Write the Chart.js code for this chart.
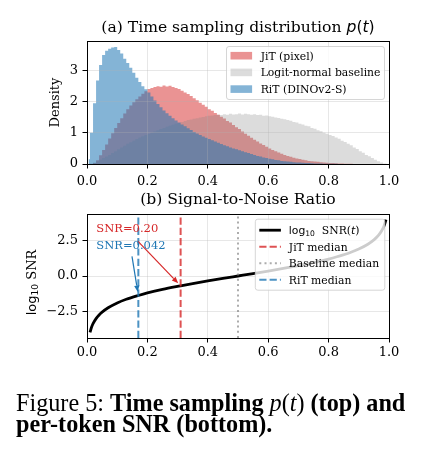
<!DOCTYPE html>
<html>
<head>
<meta charset="utf-8">
<script src="https://cdn.jsdelivr.net/npm/chart.js@4.4.1/dist/chart.umd.min.js"></script>
<style>
  body { margin: 0; background: #fff; width: 424px; height: 459px; position: relative; overflow: hidden; }
  #c1 { position: absolute; left: 0; top: 0; }
  #c2 { position: absolute; left: 0; top: 185px; }
  #caption {
    position: absolute; left: 16px; top: 392px;
    font-family: "Liberation Serif", serif; font-size: 24.2px; line-height: 21px;
    white-space: nowrap; color: #000;
  }
</style>
</head>
<body>
<canvas id="c1" width="424" height="190"></canvas>
<canvas id="c2" width="424" height="190"></canvas>
<div id="caption">Figure 5: <b>Time sampling</b> <i>p</i>(<i>t</i>) <b>(top) and</b><br><b>per-token SNR (bottom).</b></div>
<script>
// ---- data: (a) histograms, bin width 0.01 ----
const binCenters = [
  0.005, 0.015, 0.025, 0.035, 0.045, 0.055, 0.065, 0.075, 0.085, 0.095,
  0.105, 0.115, 0.125, 0.135, 0.145, 0.155, 0.165, 0.175, 0.185, 0.195,
  0.205, 0.215, 0.225, 0.235, 0.245, 0.255, 0.265, 0.275, 0.285, 0.295,
  0.305, 0.315, 0.325, 0.335, 0.345, 0.355, 0.365, 0.375, 0.385, 0.395,
  0.405, 0.415, 0.425, 0.435, 0.445, 0.455, 0.465, 0.475, 0.485, 0.495,
  0.505, 0.515, 0.525, 0.535, 0.545, 0.555, 0.565, 0.575, 0.585, 0.595,
  0.605, 0.615, 0.625, 0.635, 0.645, 0.655, 0.665, 0.675, 0.685, 0.695,
  0.705, 0.715, 0.725, 0.735, 0.745, 0.755, 0.765, 0.775, 0.785, 0.795,
  0.805, 0.815, 0.825, 0.835, 0.845, 0.855, 0.865, 0.875, 0.885, 0.895,
  0.905, 0.915, 0.925, 0.935, 0.945, 0.955, 0.965, 0.975, 0.985, 0.995
];
const jitDensity = [
  0, 0, 0.03, 0.12, 0.28, 0.45, 0.63, 0.82, 0.99, 1.16,
  1.32, 1.47, 1.62, 1.76, 1.88, 1.98, 2.08, 2.17, 2.26, 2.34,
  2.41, 2.44, 2.47, 2.50, 2.48, 2.52, 2.49, 2.51, 2.47, 2.44,
  2.41, 2.35, 2.30, 2.25, 2.18, 2.11, 2.05, 1.97, 1.90, 1.84,
  1.76, 1.71, 1.64, 1.58, 1.52, 1.46, 1.38, 1.33, 1.25, 1.18,
  1.12, 1.04, 0.97, 0.91, 0.84, 0.78, 0.72, 0.66, 0.61, 0.55,
  0.50, 0.45, 0.41, 0.37, 0.33, 0.29, 0.26, 0.23, 0.20, 0.18,
  0.16, 0.14, 0.12, 0.10, 0.09, 0.08, 0.07, 0.06, 0.05, 0.04,
  0.035, 0.03, 0.025, 0.02, 0.015, 0.01, 0.008, 0.006, 0.004, 0.002,
  0, 0, 0, 0, 0, 0, 0, 0, 0, 0
];
const baselineDensity = [
  0.005, 0.02, 0.05, 0.09, 0.14, 0.19, 0.24, 0.29, 0.35, 0.41,
  0.47, 0.53, 0.59, 0.65, 0.70, 0.75, 0.80, 0.85, 0.89, 0.93,
  0.96, 1.00, 1.04, 1.08, 1.12, 1.16, 1.20, 1.23, 1.26, 1.29,
  1.32, 1.35, 1.38, 1.41, 1.43, 1.45, 1.47, 1.49, 1.51, 1.53,
  1.55, 1.56, 1.57, 1.58, 1.57, 1.60, 1.58, 1.61, 1.59, 1.60,
  1.62, 1.59, 1.61, 1.60, 1.58, 1.60, 1.57, 1.58, 1.55, 1.56,
  1.53, 1.52, 1.49, 1.48, 1.45, 1.44, 1.41, 1.39, 1.35, 1.33,
  1.29, 1.27, 1.23, 1.21, 1.16, 1.13, 1.08, 1.05, 1.00, 0.97,
  0.93, 0.90, 0.85, 0.81, 0.75, 0.71, 0.65, 0.60, 0.53, 0.48,
  0.41, 0.36, 0.29, 0.25, 0.19, 0.14, 0.09, 0.05, 0.02, 0.005
];
const ritDensity = [
  0.15, 1.00, 1.95, 2.68, 3.18, 3.50, 3.64, 3.70, 3.74, 3.76,
  3.66, 3.55, 3.38, 3.24, 3.09, 2.93, 2.77, 2.63, 2.50, 2.40,
  2.30, 2.17, 2.04, 1.93, 1.82, 1.72, 1.63, 1.55, 1.47, 1.40,
  1.33, 1.27, 1.21, 1.15, 1.09, 1.03, 0.98, 0.93, 0.88, 0.84,
  0.80, 0.76, 0.72, 0.68, 0.64, 0.60, 0.57, 0.53, 0.50, 0.47,
  0.44, 0.41, 0.38, 0.35, 0.32, 0.29, 0.26, 0.24, 0.21, 0.19,
  0.17, 0.15, 0.13, 0.12, 0.10, 0.09, 0.08, 0.07, 0.06, 0.05,
  0.045, 0.04, 0.035, 0.03, 0.025, 0.02, 0.018, 0.015, 0.012, 0.01,
  0.008, 0.006, 0.005, 0.004, 0.003, 0.002, 0.001, 0, 0, 0,
  0, 0, 0, 0, 0, 0, 0, 0, 0, 0
];
const histLabels = ['JiT (pixel)', 'Logit-normal baseline', 'RiT (DINOv2-S)'];

// ---- data: (b) log10 SNR curve and medians ----
const snrT = [0.01, 0.015, 0.02, 0.03, 0.04, 0.05, 0.07, 0.1, 0.13, 0.17, 0.2, 0.25, 0.31, 0.35, 0.4, 0.45, 0.5,
  0.55, 0.6, 0.65, 0.69, 0.75, 0.8, 0.83, 0.87, 0.9, 0.93, 0.95, 0.96, 0.97, 0.98, 0.985, 0.99];
const snrLog10 = [-3.99, -3.63, -3.38, -3.02, -2.76, -2.56, -2.25, -1.91, -1.65, -1.38, -1.20, -0.95, -0.70, -0.54, -0.35, -0.17, 0,
  0.17, 0.35, 0.54, 0.70, 0.95, 1.20, 1.38, 1.65, 1.91, 2.25, 2.56, 2.76, 3.02, 3.38, 3.63, 3.99];
const medianLabels = ['JiT median', 'Baseline median', 'RiT median'];
const medianT = [0.31, 0.5, 0.17];
const snrNotes = ['SNR=0.20', 'SNR=0.042'];
const snrNoteT = [0.31, 0.17];
const snrNoteLog10 = [-0.70, -1.38];

// ---- ticks ----
const xTicks = [0, 0.2, 0.4, 0.6, 0.8, 1.0];
const xTickLabels = ['0.0', '0.2', '0.4', '0.6', '0.8', '1.0'];
const densityTicks = [0, 1, 2, 3];
const densityTickLabels = ['0', '1', '2', '3'];
const snrTicks = [-2.5, 0, 2.5];
const snrTickLabels = ['\u22122.5', '0.0', '2.5'];

// ---- styles ----
const SERIF = '"DejaVu Serif"';
const SANS = '"DejaVu Sans"';
const GRID = 'rgba(176,176,176,0.3)';
const histFill = ['rgba(214,39,40,0.5)', 'rgba(128,128,128,0.28)', 'rgba(31,119,180,0.55)'];
const medianColor = ['rgba(214,39,40,0.8)', 'rgba(128,128,128,0.65)', 'rgba(31,119,180,0.8)'];
const medianDash = [[7.2, 3.1], [2, 3.2], [7.2, 3.1]];
const noteColor = ['rgb(214,39,40)', 'rgb(31,119,180)'];
// text anchor and arrow tail for each note, in data units
const noteLayout = [
  { tx: 0.031, ty: 3.10, ax: 0.169, ay: 2.45 },
  { tx: 0.031, ty: 1.92, ax: 0.149, ay: 1.39 }
];
const SNR_MIN = -4.39, SNR_MAX = 4.39;

function drawParts(ctx, parts, x, y, align) {
  let w = 0;
  for (const p of parts) { ctx.font = p.font; w += ctx.measureText(p.text).width; }
  let cx = align === 'center' ? x - w / 2 : x;
  ctx.textAlign = 'left';
  ctx.textBaseline = 'alphabetic';
  for (const p of parts) {
    ctx.font = p.font;
    ctx.fillText(p.text, cx, y + (p.dy || 0));
    cx += ctx.measureText(p.text).width;
  }
}

function legendFrame(ctx, x, y, w, h) {
  ctx.beginPath();
  ctx.roundRect(x + 0.5, y + 0.5, w, h, 2.5);
  ctx.fillStyle = 'rgba(255,255,255,0.8)';
  ctx.fill();
  ctx.strokeStyle = 'rgba(204,204,204,0.8)';
  ctx.lineWidth = 1;
  ctx.stroke();
}

function spines(ctx, a) {
  ctx.strokeStyle = '#000';
  ctx.lineWidth = 1;
  ctx.strokeRect(Math.round(a.left) + 0.5, Math.round(a.top) + 0.5,
    Math.round(a.right) - Math.round(a.left), Math.round(a.bottom) - Math.round(a.top));
}

function axisScales(yOpts, yTicks, yLabels, xPad, yWidth, xHeight, gridZ) {
  const grid = { color: GRID, lineWidth: 1, tickColor: '#000', tickLength: 4.5, tickWidth: 1, z: gridZ, offset: false };
  const tickFont = { family: SERIF, size: 13, lineHeight: 1.2 };
  return {
    x: {
      type: 'linear', min: 0, max: 1, offset: false,
      grid: grid, border: { color: '#000', width: 1, z: gridZ },
      ticks: { font: tickFont, color: '#000', padding: xPad, autoSkip: false, maxRotation: 0,
        callback: (v, i) => xTickLabels[i] },
      afterBuildTicks: s => { s.ticks = xTicks.map(v => ({ value: v })); },
      afterFit: s => { s.height = xHeight; }
    },
    y: Object.assign({
      type: 'linear',
      grid: grid, border: { color: '#000', width: 1, z: gridZ },
      ticks: { font: tickFont, color: '#000', padding: 4.5, autoSkip: false,
        callback: (v, i) => yLabels[i] },
      afterBuildTicks: s => { s.ticks = yTicks.map(v => ({ value: v })); },
      afterFit: s => { s.width = yWidth; }
    }, yOpts)
  };
}

// ---- (a) time sampling distribution ----
const topDecor = {
  id: 'topDecor',
  afterDraw(chart) {
    const { ctx, chartArea: a } = chart;
    ctx.save();
    spines(ctx, a);
    ctx.fillStyle = '#000';
    const cx = (a.left + a.right) / 2;
    drawParts(ctx, [
      { text: '(a) Time sampling distribution ', font: '15.6px ' + SERIF },
      { text: 'p', font: 'italic 15.6px ' + SANS },
      { text: '(', font: '15.6px ' + SANS },
      { text: 't', font: 'italic 15.6px ' + SANS },
      { text: ')', font: '15.6px ' + SANS }
    ], cx, a.top - 9.1, 'center');
    ctx.save();
    ctx.translate(58.7, (a.top + a.bottom) / 2);
    ctx.rotate(-Math.PI / 2);
    drawParts(ctx, [{ text: 'Density', font: '13px ' + SERIF }], 0, 0, 'center');
    ctx.restore();
    // legend
    const lx = a.right - 5 - 158, ly = a.top + 5;
    legendFrame(ctx, lx, ly, 158, 53);
    histLabels.forEach((lab, i) => {
      const ry = ly + 9.7 + i * 16.7;
      ctx.fillStyle = histFill[i];
      ctx.fillRect(lx + 4.5, ry - 3.8, 21.6, 7.6);
      ctx.fillStyle = '#000';
      drawParts(ctx, [{ text: lab, font: '10.8px ' + SERIF }], lx + 34.7, ry + 3.9, 'left');
    });
    ctx.restore();
  }
};

// histograms drawn as stepped filled areas (steps switch at the bin edges)
const histSeries = [jitDensity, baselineDensity, ritDensity];
new Chart(document.getElementById('c1'), {
  type: 'line',
  data: {
    datasets: histSeries.map((vals, i) => ({
      label: histLabels[i],
      data: binCenters.map((x, j) => ({ x: x, y: vals[j] })),
      backgroundColor: histFill[i],
      borderWidth: 0,
      borderColor: 'rgba(0,0,0,0)',
      pointRadius: 0,
      stepped: 'middle',
      fill: 'origin',
      order: 3 - i
    }))
  },
  options: {
    responsive: false,
    animation: false,
    layout: { padding: { left: 0, right: 35, top: 41, bottom: 0 } },
    plugins: { legend: { display: false }, tooltip: { enabled: false } },
    scales: axisScales({ min: 0, max: 3.95 }, densityTicks, densityTickLabels, 5.4, 87, 26, 1)
  },
  plugins: [topDecor]
});

// ---- (b) signal-to-noise ratio ----
function arrow(ctx, x0, y0, tx, ty, color) {
  const ang = Math.atan2(ty - y0, tx - x0);
  const x1 = tx - 3.5 * Math.cos(ang), y1 = ty - 3.5 * Math.sin(ang);
  const head = 6.5, half = 2.6;
  const bx = x1 - head * Math.cos(ang), by = y1 - head * Math.sin(ang);
  ctx.strokeStyle = color;
  ctx.fillStyle = color;
  ctx.lineWidth = 1.2;
  ctx.setLineDash([]);
  ctx.beginPath(); ctx.moveTo(x0, y0); ctx.lineTo(bx, by); ctx.stroke();
  ctx.beginPath();
  ctx.moveTo(x1, y1);
  ctx.lineTo(bx + half * Math.sin(ang), by - half * Math.cos(ang));
  ctx.lineTo(bx - half * Math.sin(ang), by + half * Math.cos(ang));
  ctx.closePath();
  ctx.fill();
}

const bottomDecor = {
  id: 'bottomDecor',
  afterDatasetsDraw(chart) {
    const { ctx, chartArea: a, scales: { x, y } } = chart;
    ctx.save();
    snrNotes.forEach((txt, i) => {
      const L = noteLayout[i];
      ctx.fillStyle = noteColor[i];
      drawParts(ctx, [{ text: txt, font: '11.5px ' + SERIF }], x.getPixelForValue(L.tx), y.getPixelForValue(L.ty), 'left');
      arrow(ctx, x.getPixelForValue(L.ax), y.getPixelForValue(L.ay),
        x.getPixelForValue(snrNoteT[i]), y.getPixelForValue(snrNoteLog10[i]), noteColor[i]);
    });
    // legend
    const lw = 129.5, lh = 71;
    const lx = a.right - 4.7 - lw, ly = a.top + 4.7;
    legendFrame(ctx, lx, ly, lw, lh);
    const rows = [
      { color: '#000', width: 2.8, dash: [] }
    ].concat(medianLabels.map((m, i) => ({ color: medianColor[i], width: 2, dash: medianDash[i] })));
    rows.forEach((r, i) => {
      const ry = ly + 11.5 + i * 16.5;
      ctx.strokeStyle = r.color;
      ctx.lineWidth = r.width;
      ctx.setLineDash(r.dash);
      ctx.beginPath(); ctx.moveTo(lx + 4.5, ry); ctx.lineTo(lx + 26.1, ry); ctx.stroke();
      ctx.setLineDash([]);
      ctx.fillStyle = '#000';
      const parts = i === 0 ? [
        { text: 'log', font: '10.8px ' + SANS },
        { text: '10', font: '7.6px ' + SANS, dy: 2.2 },
        { text: '  SNR(', font: '10.8px ' + SERIF },
        { text: 't', font: 'italic 10.8px ' + SANS },
        { text: ')', font: '10.8px ' + SERIF }
      ] : [{ text: medianLabels[i - 1], font: '10.8px ' + SERIF }];
      drawParts(ctx, parts, lx + 34, ry + 3.9, 'left');
    });
    ctx.restore();
  },
  afterDraw(chart) {
    const { ctx, chartArea: a } = chart;
    ctx.save();
    spines(ctx, a);
    ctx.fillStyle = '#000';
    drawParts(ctx, [{ text: '(b) Signal-to-Noise Ratio', font: '15.6px ' + SERIF }],
      (a.left + a.right) / 2, a.top - 9.8, 'center');
    ctx.save();
    ctx.translate(35.5, 97.5);
    ctx.rotate(-Math.PI / 2);
    drawParts(ctx, [
      { text: 'log', font: '13px ' + SANS },
      { text: '10', font: '9.1px ' + SANS, dy: 2.6 },
      { text: ' SNR', font: '13px ' + SERIF }
    ], 0, 0, 'center');
    ctx.restore();
    ctx.restore();
  }
};

new Chart(document.getElementById('c2'), {
  type: 'line',
  data: {
    datasets: [{
      label: 'log10 SNR(t)',
      data: snrT.map((t, i) => ({ x: t, y: snrLog10[i] })),
      borderColor: '#000',
      borderWidth: 2.8,
      pointRadius: 0,
      cubicInterpolationMode: 'monotone',
      order: 2
    }].concat(medianT.map((m, i) => ({
      label: medianLabels[i],
      data: [{ x: m, y: SNR_MIN }, { x: m, y: SNR_MAX }],
      borderColor: medianColor[i],
      borderWidth: 2,
      borderDash: medianDash[i],
      borderCapStyle: 'butt',
      pointRadius: 0,
      tension: 0,
      order: 1
    })))
  },
  options: {
    responsive: false,
    animation: false,
    layout: { padding: { left: 0, right: 35, top: 29, bottom: 0 } },
    plugins: { legend: { display: false }, tooltip: { enabled: false } },
    scales: axisScales({ min: SNR_MIN, max: SNR_MAX }, snrTicks, snrTickLabels, 2.2, 87, 37, -1)
  },
  plugins: [bottomDecor]
});
</script>
</body>
</html>
